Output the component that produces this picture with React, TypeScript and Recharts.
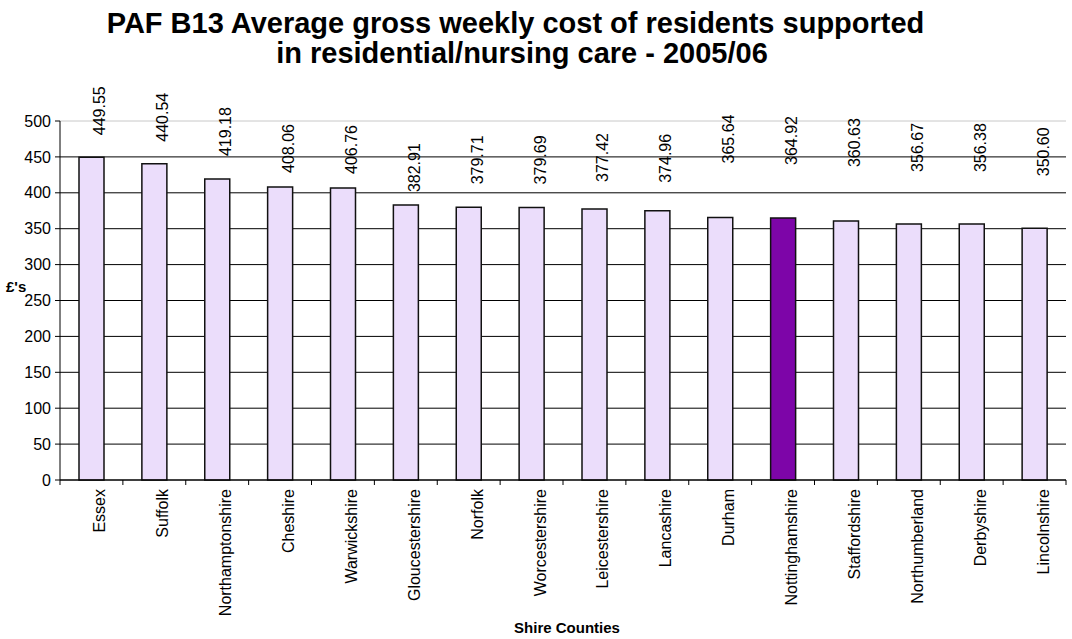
import { BarChart, Bar, Cell, XAxis, YAxis, CartesianGrid, LabelList, Label } from 'recharts';

const COUNTIES = [
  'Essex', 'Suffolk', 'Northamptonshire', 'Cheshire', 'Warwickshire', 'Gloucestershire',
  'Norfolk', 'Worcestershire', 'Leicestershire', 'Lancashire', 'Durham', 'Nottinghamshire',
  'Staffordshire', 'Northumberland', 'Derbyshire', 'Lincolnshire',
];
const COSTS = [
  449.55, 440.54, 419.18, 408.06, 406.76, 382.91, 379.71, 379.69,
  377.42, 374.96, 365.64, 364.92, 360.63, 356.67, 356.38, 350.6,
];
const Y_TICKS = [0, 50, 100, 150, 200, 250, 300, 350, 400, 450, 500];
const HIGHLIGHT = 'Nottinghamshire';

// labels in the original were nudged by hand, gap in px above each bar
const LABEL_LIFT = [22, 22, 23, 14, 14, 13, 23, 23, 27, 28, 54, 53, 54, 52, 52, 52];

const FONT = 'Arial, "Liberation Sans", sans-serif';
const W = 1072;
const H = 639;
const PLOT_LEFT = 60;
const PLOT_RIGHT = 1066;
const PLOT_TOP = 121;
const PLOT_BOTTOM = 480;
const BAND = (PLOT_RIGHT - PLOT_LEFT) / COUNTIES.length;

const LIGHT = '#ebddfb';
const DARK = '#7d05a8';

const data = COUNTIES.map((name, i) => ({ name, cost: COSTS[i] }));

function CountyTick(props: any) {
  const { x, y, payload, index } = props;
  const tx = x + 14;
  const ty = y + 9;
  return (
    <g>
      <line x1={x - BAND / 2} x2={x - BAND / 2} y1={y} y2={y + 5} stroke="#000" />
      {index === COUNTIES.length - 1 && (
        <line x1={x + BAND / 2} x2={x + BAND / 2} y1={y} y2={y + 5} stroke="#000" />
      )}
      <text
        x={tx}
        y={ty}
        transform={`rotate(-90 ${tx} ${ty})`}
        textAnchor="end"
        fontSize={16}
        fontFamily={FONT}
        fill="#000"
      >
        {payload.value}
      </text>
    </g>
  );
}

function ValueLabel(props: any) {
  const { x, y, width, value, index } = props;
  const i = typeof index === 'number' ? index : COSTS.indexOf(value);
  const tx = x + width / 2 + 14;
  const ty = y - (LABEL_LIFT[i] ?? 20);
  return (
    <text
      x={tx}
      y={ty}
      transform={`rotate(-90 ${tx} ${ty})`}
      textAnchor="start"
      fontSize={16}
      fontFamily={FONT}
      fill="#000"
    >
      {Number(value).toFixed(2)}
    </text>
  );
}

function GridLine(props: any) {
  const { x1, x2, y1, y2 } = props;
  const isTop = Math.abs(y1 - PLOT_TOP) < 1;
  return (
    <line
      key={`g-${y1}`}
      x1={x1}
      x2={x2}
      y1={y1}
      y2={y2}
      stroke={isTop ? '#c8c8c8' : '#000'}
      strokeWidth={1}
    />
  );
}

const titleLine = {
  position: 'absolute' as const,
  left: 0,
  textAlign: 'center' as const,
  fontFamily: FONT,
  fontWeight: 'bold' as const,
  fontSize: 29,
  lineHeight: '30px',
  color: '#000',
  whiteSpace: 'nowrap' as const,
};

export default function App() {
  return (
    <div style={{ position: 'absolute', left: 0, top: 0, width: W, height: H, background: '#fff' }}>
      <div style={{ ...titleLine, top: 8, width: 1031 }}>
        PAF B13 Average gross weekly cost of residents supported
      </div>
      <div style={{ ...titleLine, top: 38, width: 1044 }}>
        in residential/nursing care - 2005/06
      </div>
      <BarChart
        width={W}
        height={H}
        data={data}
        margin={{ top: PLOT_TOP, right: W - PLOT_RIGHT, bottom: 0, left: 0 }}
        barSize={25}
      >
        <CartesianGrid vertical={false} horizontal={GridLine} />
        <XAxis
          dataKey="name"
          interval={0}
          height={H - PLOT_BOTTOM}
          tickSize={0}
          tickMargin={0}
          tickLine={false}
          tick={<CountyTick />}
          axisLine={{ stroke: '#000' }}
        >
          <Label
            content={({ viewBox }: any) => (
              <text
                x={viewBox.x + viewBox.width / 2 + 4}
                y={633}
                textAnchor="middle"
                fontSize={15}
                fontWeight="bold"
                fontFamily={FONT}
                fill="#000"
              >
                Shire Counties
              </text>
            )}
          />
        </XAxis>
        <YAxis
          domain={[0, 500]}
          ticks={Y_TICKS}
          interval={0}
          width={PLOT_LEFT}
          tickSize={5}
          tickMargin={4}
          tick={{ fontSize: 16, fontFamily: FONT, fill: '#000' }}
          tickLine={{ stroke: '#000' }}
          axisLine={{ stroke: '#000' }}
        >
          <Label
            content={() => (
              <text x={6} y={292} fontSize={15} fontWeight="bold" fontFamily={FONT} fill="#000">
                £'s
              </text>
            )}
          />
        </YAxis>
        <Bar dataKey="cost" stroke="#111" strokeWidth={1.5} isAnimationActive={false}>
          {data.map((d) => (
            <Cell key={d.name} fill={d.name === HIGHLIGHT ? DARK : LIGHT} />
          ))}
          <LabelList dataKey="cost" content={<ValueLabel />} />
        </Bar>
      </BarChart>
    </div>
  );
}
